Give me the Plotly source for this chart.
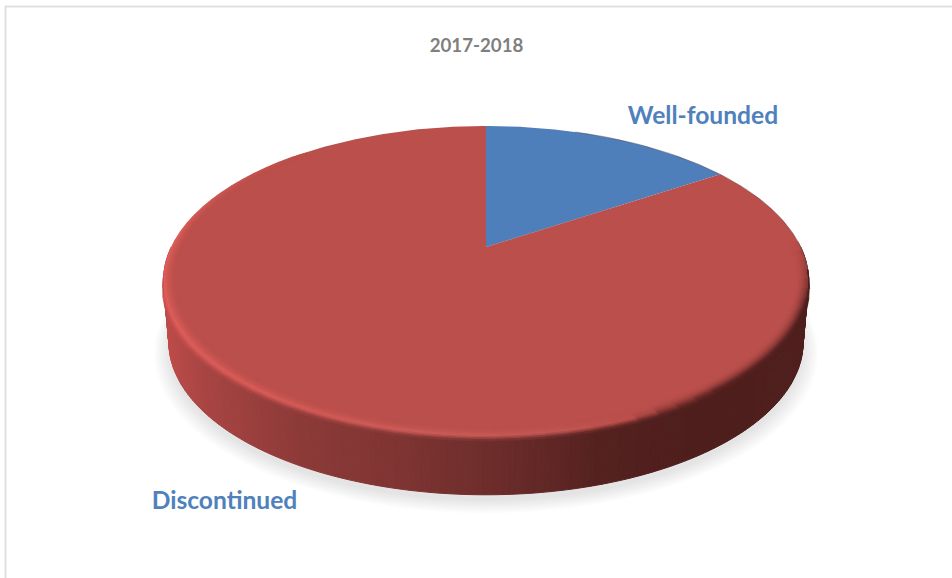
import numpy as np
import plotly.graph_objects as go

# Chart content
title_text = "2017-2018"
categories = ["Well-founded", "Discontinued"]
shares = [15.7, 84.3]
slice_colors = ["#4f7fba", "#bb4f4b"]
label_colors = "#4f81bd"

W, H = 952, 578

# Tilted-disc projection, expressed in the hidden 0..W / H..0 axes
CX, APEX_Y = 486.0, 247.0
KX, KY, PERSP = 314.7, 147.6, 0.219
DEPTH_Y, DEPTH_SCALE = 62.0, 0.983


def project(theta_deg, r=1.0, scale=1.0, dy=0.0):
    """Angle clockwise from 12 o'clock on the disc -> plotting coordinates."""
    t = np.radians(theta_deg)
    u, v = r * np.sin(t), r * np.cos(t)
    w = 1 + PERSP * v
    return CX + scale * KX * u / w, APEX_Y + dy - scale * KY * v / w


def hex_rgb(c):
    c = c.lstrip("#")
    return np.array([int(c[i:i + 2], 16) for i in (0, 2, 4)], float)


def mix(a, b, f):
    return a + (b - a) * float(np.clip(f, 0, 1))


def css(c):
    r, g, b = np.round(c).astype(int)
    return f"rgb({r},{g},{b})"


def ramp(x, stops):
    xs = [s[0] for s in stops]
    rgb = np.array([hex_rgb(s[1]) for s in stops])
    return np.array([np.interp(x, xs, rgb[:, i]) for i in range(3)])


WALL_STOPS = [(163, "#c04c4a"), (200, "#a94543"), (300, "#8c3a38"), (400, "#7e3432"),
              (500, "#6b2c2a"), (600, "#54211f"), (700, "#4d1e1c"), (808, "#4e1f1d")]
RIM_STOPS = [(163, "#e25f5b"), (300, "#d95d59"), (430, "#cd5e5a"), (560, "#c45854"),
             (630, "#bb4f4b"), (665, "#8a3734"), (720, "#5e2523"), (808, "#502020")]

fig = go.Figure()


def add_poly(xs, ys, color, edge=0.0):
    fig.add_trace(go.Scatter(
        x=list(xs), y=list(ys), mode="lines", fill="toself", fillcolor=color,
        line=dict(color=color, width=edge), hoverinfo="skip", showlegend=False,
    ))


# Soft ground shadow, built from stacked faint outlines
theta_all = np.linspace(0, 360, 181)
for grow in np.linspace(15, 0, 9):
    sx, sy = project(theta_all, scale=0.983 + grow / 322, dy=68 + grow * 0.25)
    add_poly(sx, sy, "rgba(0,0,0,0.012)")

# Wall of the disc: vertical bands shaded from left to right
steps = np.linspace(90, 270, 241)
for a, b in zip(steps[:-1], steps[1:]):
    tx, ty = project(np.array([a, b]))
    bx, by = project(np.array([b, a]), scale=DEPTH_SCALE, dy=DEPTH_Y)
    col = css(ramp((tx.mean() + bx.mean()) / 2, WALL_STOPS))
    add_poly(np.r_[tx, bx, tx[0]], np.r_[ty, by, ty[0]], col, edge=1)

# Top face: one wedge per share, starting at 12 o'clock
angles = np.cumsum([0] + shares) / sum(shares) * 360
for name, start, end, color in zip(categories, angles[:-1], angles[1:], slice_colors):
    th = np.linspace(start, end, max(int(end - start), 4) * 2)
    fx, fy = project(th)
    ax, ay = project(0.0, r=0.0)
    add_poly(np.r_[ax, fx, ax], np.r_[ay, fy, ay], color)


def rim_weight(r):
    """Bevel strength across the edge: eases in from inside, falls off over the wall."""
    if r < 1:
        return ((r - 0.962) / 0.038) ** 2
    return max(0.0, 1 - (r - 1) / 0.02)


def bulge(theta):
    """Rings outside the face only exist along the front of the disc."""
    return np.clip(np.minimum(theta - 100, 260 - theta) / 25, 0, 1)


# Bevel around the edge of the face, inner rings first
face = hex_rgb(slice_colors[1])
ring_edges = np.linspace(0.962, 1.020, 10)
rim_steps = np.linspace(88, 318, 67)
for r0, r1 in zip(ring_edges[:-1], ring_edges[1:]):
    rm = (r0 + r1) / 2
    for a, b in zip(rim_steps[:-1], rim_steps[1:]):
        mid = (a + b) / 2
        if rm > 1 and not 100 < mid < 260:
            continue
        pair = np.array([a, b])
        rr0 = 1 + (r0 - 1) * bulge(pair) if r0 > 1 else np.full(2, r0)
        rr1 = 1 + (r1 - 1) * bulge(pair) if r1 > 1 else np.full(2, r1)
        ox, oy = project(pair, r=rr0)
        ix, iy = project(pair[::-1], r=rr1[::-1])
        xm = float(np.r_[ox, ix].mean())
        taper = np.clip(min((mid - 88) / 25, (318 - mid) / 45), 0, 1)
        base = ramp(xm, WALL_STOPS) if rm > 1 else face
        col = css(mix(base, ramp(xm, RIM_STOPS), rim_weight(rm) * (taper if rm < 1 else 1)))
        add_poly(np.r_[ox, ix, ox[0]], np.r_[oy, iy, oy[0]], col, edge=0.6)

# Thin dark anti-aliased edge on the upper right of the disc
ex, ey = project(np.linspace(20, 96, 60), r=1.0)
fig.add_trace(go.Scatter(x=ex, y=ey, mode="lines", hoverinfo="skip", showlegend=False,
                         line=dict(color="rgba(70,50,50,0.4)", width=1)))

# Category labels and heading
fig.add_trace(go.Scatter(
    x=[703, 224.5], y=[117.5, 503], mode="text", text=categories,
    textposition="middle center", hoverinfo="skip", showlegend=False,
    textfont=dict(family="Lato", size=24.6, color=label_colors, weight="bold"),
))
fig.add_trace(go.Scatter(
    x=[476.5], y=[47], mode="text", text=[title_text],
    textposition="middle center", hoverinfo="skip", showlegend=False,
    textfont=dict(family="Lato", size=18.7, color="#7f7f7f", weight="bold"),
))

fig.update_layout(
    width=W, height=H, margin=dict(l=0, r=0, t=0, b=0),
    paper_bgcolor="white", plot_bgcolor="white", showlegend=False,
    xaxis=dict(range=[0, W], visible=False, fixedrange=True),
    yaxis=dict(range=[H, 0], visible=False, fixedrange=True),
    shapes=[
        dict(type="line", x0=5, x1=W, y0=6.5, y1=6.5, line=dict(color="#e0e0e0", width=2)),
        dict(type="line", x0=5.5, x1=5.5, y0=6, y1=H, line=dict(color="#e0e0e0", width=2)),
    ],
)

fig.write_html("out.html")
